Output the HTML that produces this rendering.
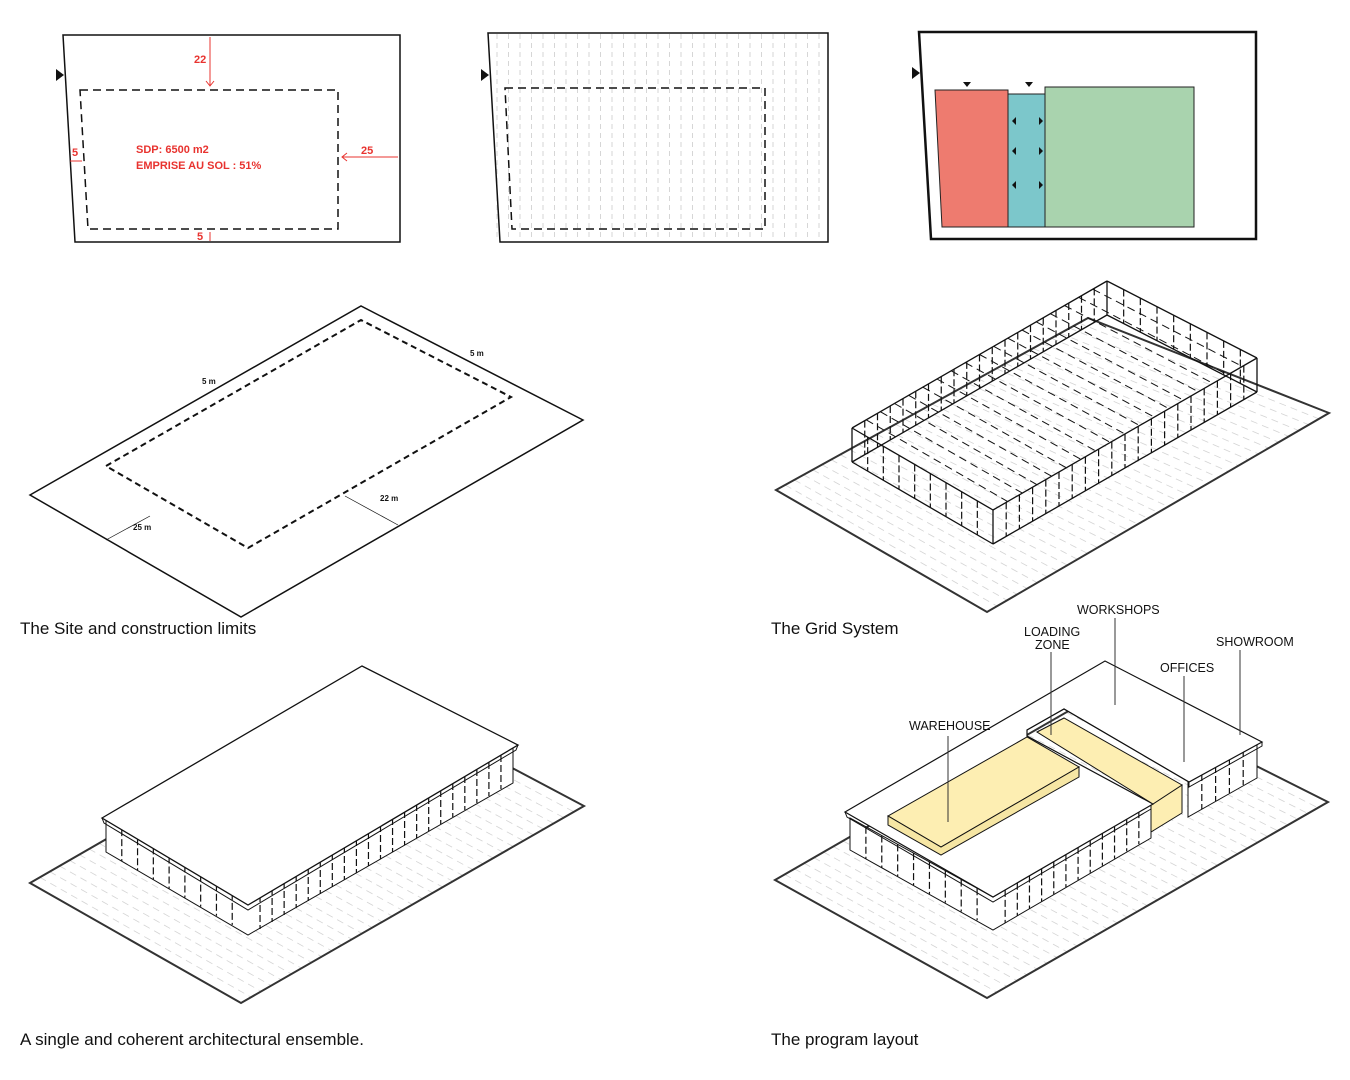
<!DOCTYPE html><html><head><style>body{margin:0;background:#fff}svg{display:block}</style></head><body>
<svg id="s" width="1350" height="1080" viewBox="0 0 1350 1080" xmlns="http://www.w3.org/2000/svg" font-family="Liberation Sans, Arial, sans-serif">
<rect width="1350" height="1080" fill="#fff"/>
<!-- panel 1 -->
<polygon points="63,35 400,35 400,242 75,242" fill="none" stroke="#111" stroke-width="1.5"/>
<polygon points="80,90 338,90 338,229 88,229" fill="none" stroke="#111" stroke-width="1.5" stroke-dasharray="8,5"/>
<polygon points="56,69 64,75 56,81" fill="#111"/>
<g stroke="#e8332f" stroke-width="1" fill="none"><line x1="210" y1="37" x2="210" y2="86"/><polyline points="206,81 210,86 214,81"/><line x1="398" y1="157" x2="342" y2="157"/><polyline points="347,153 342,157 347,161"/><line x1="70" y1="161" x2="82" y2="161"/><line x1="210" y1="241" x2="210" y2="232"/></g>
<g fill="#e8332f" font-size="11" font-weight="bold"><text x="194" y="63">22</text><text x="361" y="154">25</text><text x="72" y="156">5</text><text x="197" y="240">5</text><text x="136" y="153">SDP: 6500 m2</text><text x="136" y="169">EMPRISE AU SOL : 51%</text></g>
<!-- panel 2 -->
<g id="p2l"></g>
<polygon points="488,33 828,33 828,242 500,242" fill="none" stroke="#111" stroke-width="1.5"/>
<polygon points="505,88 765,88 765,229 512,229" fill="none" stroke="#111" stroke-width="1.5" stroke-dasharray="8,5"/>
<polygon points="481,69 489,75 481,81" fill="#111"/>
<!-- panel 3 -->
<polygon points="919,32 1256,32 1256,239 931,239" fill="none" stroke="#111" stroke-width="2.5"/>
<polygon points="935,90 1008,90 1008,227 942,227" fill="#ee7b6f" stroke="#222"/>
<rect x="1008" y="94" width="37" height="133" fill="#7cc7cb" stroke="#222"/>
<rect x="1045" y="87" width="149" height="140" fill="#a9d3ae" stroke="#222"/>
<polygon points="912,67 920,73 912,79" fill="#111"/>
<g fill="#111"><polygon points="963,82 971,82 967,87"/><polygon points="1025,82 1033,82 1029,87"/>
<polygon points="1016,117 1016,125 1012,121"/><polygon points="1039,117 1039,125 1043,121"/><polygon points="1016,147 1016,155 1012,151"/><polygon points="1039,147 1039,155 1043,151"/><polygon points="1016,181 1016,189 1012,185"/><polygon points="1039,181 1039,189 1043,185"/></g>
<!-- iso 1 -->
<polygon points="30,495 361,306 583,420 241,617" fill="none" stroke="#111" stroke-width="1.5"/>
<polygon points="106,466 361,320 511,397 248,548" fill="none" stroke="#111" stroke-width="2" stroke-dasharray="6,4"/>
<g stroke="#111" stroke-width="0.7"><line x1="106" y1="540" x2="150" y2="516"/><line x1="398" y1="525" x2="345" y2="496"/></g>
<g font-size="8" font-weight="bold" fill="#111"><text x="202" y="384">5 m</text><text x="470" y="356">5 m</text><text x="380" y="501">22 m</text><text x="133" y="530">25 m</text></g>
<text x="20" y="634" font-size="17" fill="#111">The Site and construction limits</text>
<!-- iso 2 -->
<g id="pl2"></g>
<polygon points="776,490 1088,318 1329,413 987,612" fill="none" stroke="#333" stroke-width="2"/>
<g id="box2"></g>
<text x="771" y="634" font-size="17" fill="#111">The Grid System</text>
<!-- iso 3 -->
<g id="pl3"></g>
<polygon points="30,883 365,690 584,806 241,1003" fill="none" stroke="#333" stroke-width="2"/>
<polygon points="106,820 106,852 248,935 513,783 513,748 248,902" fill="#fff" stroke="#111"/>
<g id="w3"></g>
<polygon points="102,818 362,666 518,745 248,905" fill="#fff" stroke="#111" stroke-width="1.3"/>
<polyline points="102,818 104,823 248,910 516,750 518,745" fill="none" stroke="#111"/>
<text x="20" y="1045" font-size="17" fill="#111">A single and coherent architectural ensemble.</text>
<!-- iso 4 -->
<g id="pl4"></g>
<polygon points="775,880 1105,690 1328,802 987,998" fill="none" stroke="#333" stroke-width="2"/>
<polygon points="850,818 850,850 993,930 1151,838 1151,804 993,897" fill="#fff" stroke="#111"/>
<polygon points="1188,782 1188,817 1257,778 1257,742" fill="#fff" stroke="#111"/>
<g id="w4"></g>
<polygon points="1151,804 1182,785 1182,813 1151,832" fill="#fdeeb2" stroke="#111"/>
<polygon points="845,812 1105,661 1262,742 1189,782 1064,709 1027,730 1027,736 1153,804 993,897" fill="#fff" stroke="#111" stroke-width="1.2"/>
<polyline points="845,812 847,817 993,902 1151,809" fill="none" stroke="#111"/>
<polyline points="1189,782 1189,787 1262,746 1262,742" fill="none" stroke="#111"/>
<polygon points="1037,732 1064,718 1182,785 1153,804" fill="#fdeeb2" stroke="#111"/>
<polyline points="1027,730 1064,709 1189,782" fill="none" stroke="#111"/>
<polygon points="888,816 1027,737 1079,767 941,847" fill="#fdeeb2" stroke="#111"/>
<polygon points="888,816 941,847 1079,767 1079,777 941,855 888,825" fill="#f6e6a4" stroke="#111"/>
<g stroke="#333" stroke-width="1"><line x1="948" y1="736" x2="948" y2="822"/><line x1="1051" y1="652" x2="1051" y2="735"/><line x1="1115" y1="618" x2="1115" y2="705"/><line x1="1184" y1="676" x2="1184" y2="762"/><line x1="1240" y1="650" x2="1240" y2="735"/></g>
<g font-size="12.5" fill="#111"><text x="909" y="730">WAREHOUSE</text><text x="1024" y="636">LOADING</text><text x="1035" y="649">ZONE</text><text x="1077" y="614">WORKSHOPS</text><text x="1160" y="672">OFFICES</text><text x="1216" y="646">SHOWROOM</text></g>
<text x="771" y="1045" font-size="17" fill="#111">The program layout</text>
</svg>
<script>
const NS="http://www.w3.org/2000/svg";
function L(g,x1,y1,x2,y2,st,w,da){const l=document.createElementNS(NS,"line");l.setAttribute("x1",x1);l.setAttribute("y1",y1);l.setAttribute("x2",x2);l.setAttribute("y2",y2);l.setAttribute("stroke",st);l.setAttribute("stroke-width",w);if(da)l.setAttribute("stroke-dasharray",da);document.getElementById(g).appendChild(l);}
for(let x=497;x<828;x+=11.5)L("p2l",x,34,x,241,"#ccc",0.8,"5,4");
function plate(g,a,b,c,d,n){ // lines parallel a->d between edges a-b and d-c
 for(let i=1;i<n;i++){const t=i/n;L(g,a[0]+(b[0]-a[0])*t,a[1]+(b[1]-a[1])*t,d[0]+(c[0]-d[0])*t,d[1]+(c[1]-d[1])*t,"#d4d4d4",0.8,"7,5");}}
plate("pl2",[776,490],[1088,318],[1329,413],[987,612],34);
plate("pl3",[30,883],[365,690],[584,806],[241,1003],34);
plate("pl4",[775,880],[1105,690],[1328,802],[987,998],34);
// box 2
const A=[852,428],B=[1107,281],C=[1257,358],D=[993,510],h=34;
function walls(g,P,Q,n,h){for(let i=1;i<n;i++){const t=i/n,x=P[0]+(Q[0]-P[0])*t,y=P[1]+(Q[1]-P[1])*t;L(g,x,y,x,y+h,"#111",1.2,"7,3");}}
walls("box2",A,B,20,h);walls("box2",B,C,9,h);walls("box2",A,D,9,h);walls("box2",D,C,20,h);
for(let i=1;i<18;i++){const t=i/18;L("box2",A[0]+(B[0]-A[0])*t,A[1]+(B[1]-A[1])*t,D[0]+(C[0]-D[0])*t,D[1]+(C[1]-D[1])*t,"#111",1,"8,5");}
const ed=[[A,B],[B,C],[C,D],[D,A]];
ed.forEach(([p,q])=>{L("box2",p[0],p[1],q[0],q[1],"#111",1.3);L("box2",p[0],p[1]+h,q[0],q[1]+h,"#111",1.3);});
[A,B,C,D].forEach(p=>L("box2",p[0],p[1],p[0],p[1]+h,"#111",1.3));
walls("w3",[106,820],[248,902],9,32);walls("w3",[248,902],[513,748],22,34);
walls("w4",[850,818],[993,897],9,32);walls("w4",[993,897],[1151,804],13,33);walls("w4",[1188,782],[1257,742],5,35);
</script>
</body></html>
